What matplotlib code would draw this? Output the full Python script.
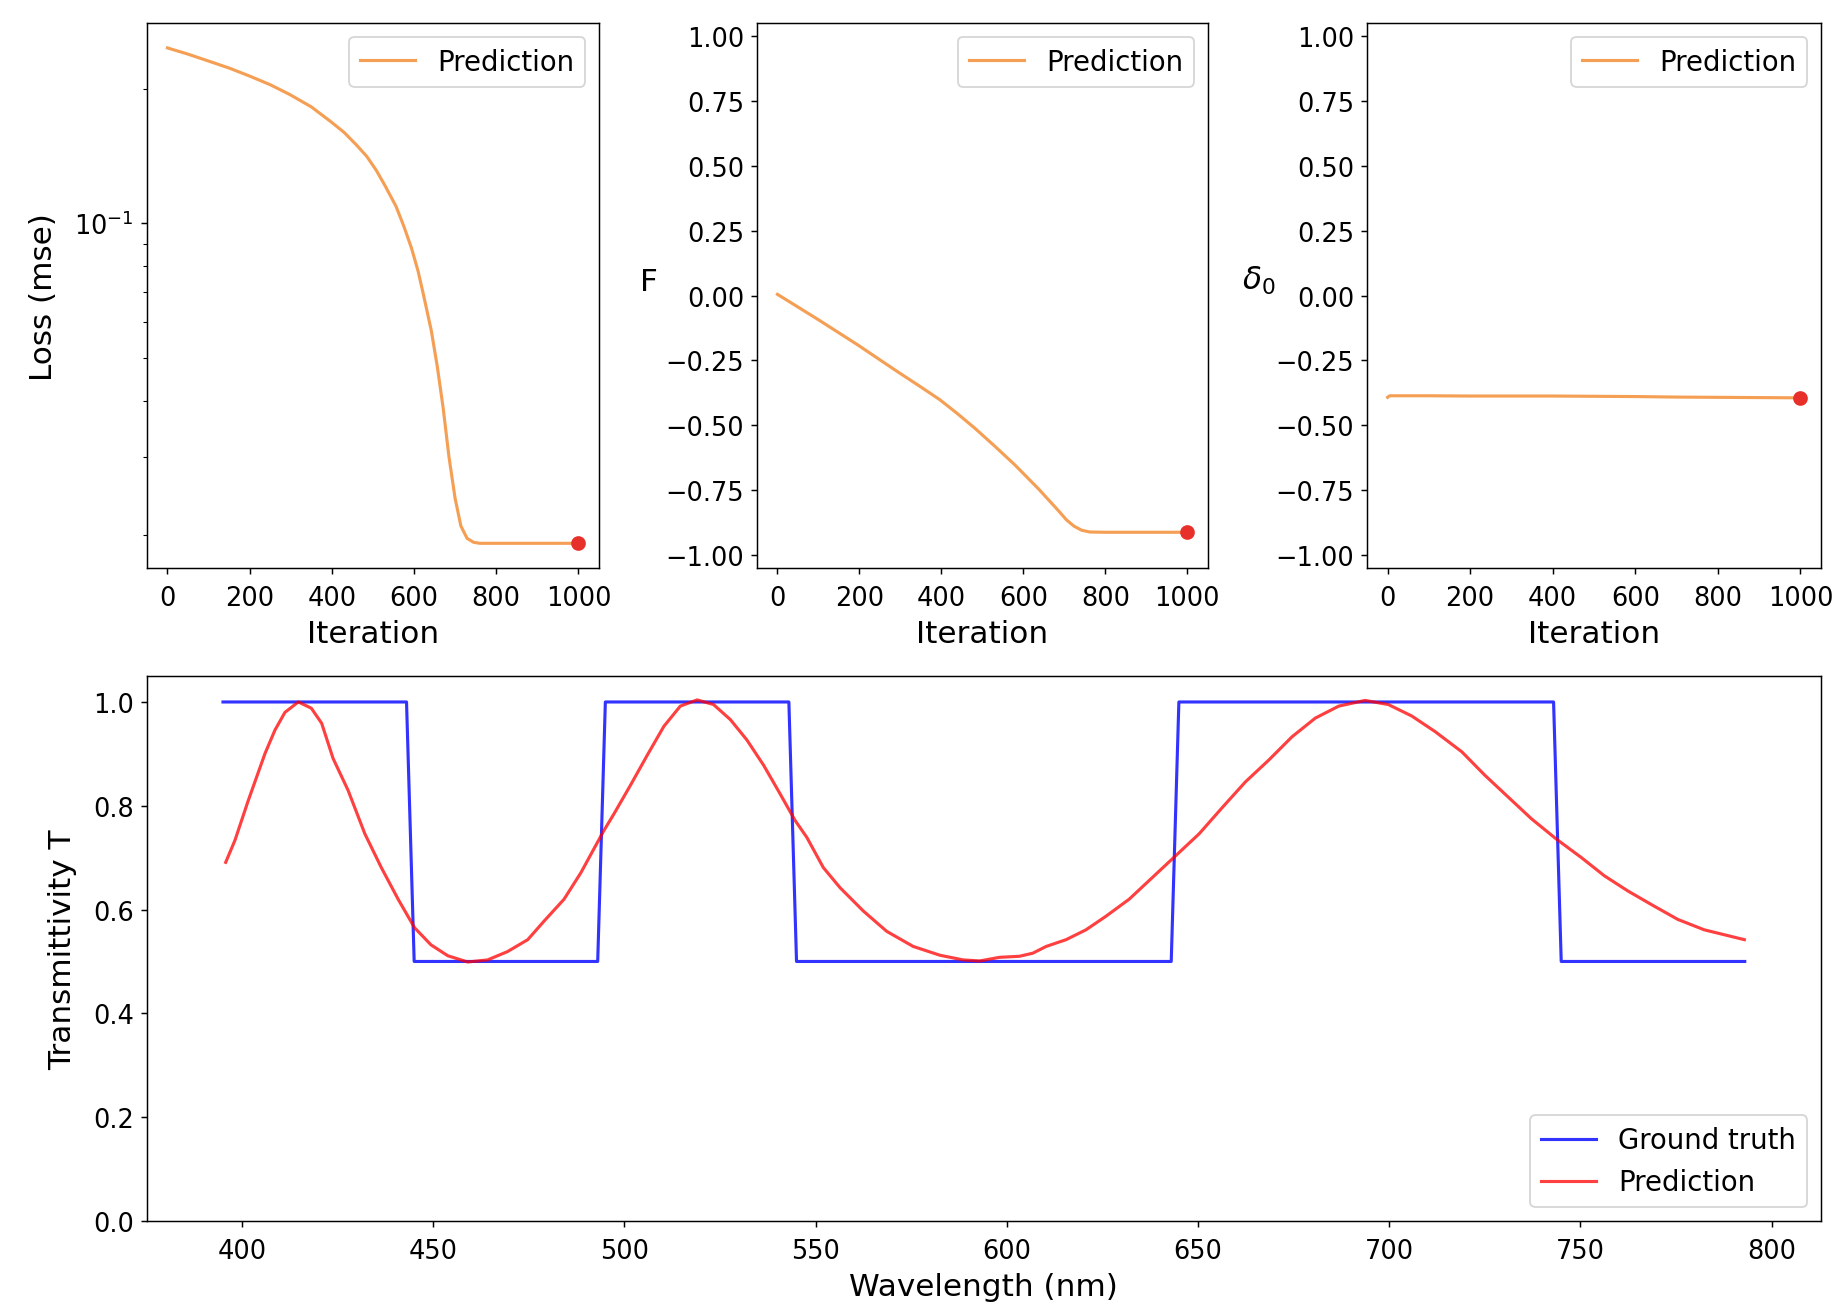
import numpy as np
import matplotlib
matplotlib.use("Agg")
import matplotlib.pyplot as plt

# ---- training history ----
loss_iter = [0, 50, 96, 150, 201, 250, 297, 350, 398, 430, 460, 485, 508, 530,
             556, 575, 594, 610, 623, 642, 657, 671, 685, 700, 714, 729, 745,
             760, 800, 900, 1000]
loss_vals = [0.2466, 0.2388, 0.2311, 0.2223, 0.2131, 0.2040, 0.1941, 0.1820,
             0.1685, 0.1595, 0.1495, 0.1410, 0.1313, 0.1210, 0.1091, 0.0985,
             0.0878, 0.0780, 0.0691, 0.0575, 0.0475, 0.0385, 0.0300, 0.0242,
             0.0210, 0.0197, 0.0193, 0.0192, 0.0192, 0.0192, 0.0192]

f_iter = [0, 98, 194, 290, 345, 396, 440, 483, 530, 579, 637, 685, 705, 723,
          742, 762, 800, 900, 1000]
f_vals = [0.005, -0.091, -0.188, -0.290, -0.347, -0.401, -0.456, -0.513,
          -0.580, -0.652, -0.745, -0.828, -0.864, -0.888, -0.904, -0.911,
          -0.912, -0.912, -0.912]

d0_iter = [0, 5, 100, 200, 300, 400, 500, 600, 700, 800, 900, 1000]
d0_vals = [-0.392, -0.386, -0.386, -0.387, -0.387, -0.387, -0.388, -0.389,
           -0.391, -0.392, -0.393, -0.394]

# ---- spectrum ----
gt_wl = np.arange(395, 795, 2)
gt_band_start = [395, 445, 495, 545, 645, 745]
gt_band_level = [1.0, 0.5, 1.0, 0.5, 1.0, 0.5]

pred_wl = [395.7, 398.1, 401.6, 406.0, 408.6, 411.2, 414.7, 418.1, 420.8, 423.8,
           427.7, 432.1, 436.4, 440.8, 445.1, 449.4, 453.8, 459.0, 464.2, 469.4,
           474.7, 479.0, 484.2, 488.6, 494.6, 497.3, 501.6, 506.0, 510.3, 514.6,
           519.0, 523.3, 527.7, 532.0, 536.4, 540.7, 544.6, 547.7, 552.0, 556.4,
           562.5, 568.6, 575.5, 582.5, 588.6, 592.9, 598.1, 603.3, 606.8, 610.3,
           615.5, 620.7, 625.9, 632.0, 638.1, 644.2, 650.3, 656.4, 662.4, 668.5,
           674.6, 680.7, 686.8, 693.7, 699.8, 705.9, 712.0, 719.0, 725.0, 731.1,
           737.2, 743.7, 750.3, 756.3, 762.4, 768.5, 775.5, 782.4, 792.9]
pred_T = [0.691, 0.733, 0.810, 0.901, 0.946, 0.980, 1.000, 0.988, 0.959, 0.891,
          0.830, 0.746, 0.681, 0.620, 0.565, 0.532, 0.511, 0.499, 0.503, 0.519,
          0.542, 0.578, 0.620, 0.671, 0.752, 0.785, 0.840, 0.898, 0.953, 0.992,
          1.004, 0.995, 0.966, 0.927, 0.878, 0.823, 0.772, 0.739, 0.681, 0.642,
          0.597, 0.558, 0.529, 0.512, 0.503, 0.501, 0.508, 0.510, 0.516, 0.529,
          0.542, 0.561, 0.587, 0.620, 0.662, 0.704, 0.746, 0.797, 0.846, 0.888,
          0.933, 0.969, 0.992, 1.003, 0.995, 0.973, 0.943, 0.904, 0.859, 0.817,
          0.775, 0.736, 0.700, 0.665, 0.636, 0.610, 0.581, 0.561, 0.542]

# step target built from the band edges
idx = np.searchsorted(gt_band_start, gt_wl, side="right") - 1
gt_T = np.array(gt_band_level)[idx]

ORANGE = "#f59f55"
DOT = "#e8302a"

plt.rcParams.update({
    "font.size": 15,
    "xtick.labelsize": 14,
    "ytick.labelsize": 14,
    "xtick.major.pad": 6,
    "axes.labelsize": 17,
    "legend.fontsize": 15,
    "lines.linewidth": 1.7,
})

fig = plt.figure(figsize=(14, 9.924), dpi=132)

ax1 = fig.add_axes([0.0795, 0.5656, 0.2446, 0.4160])
ax2 = fig.add_axes([0.4096, 0.5656, 0.2440, 0.4160])
ax3 = fig.add_axes([0.7397, 0.5656, 0.2457, 0.4160])
ax4 = fig.add_axes([0.0795, 0.0672, 0.9058, 0.4160])

# loss
ax1.plot(loss_iter, loss_vals, color=ORANGE, label="Prediction")
ax1.plot(loss_iter[-1], loss_vals[-1], "o", color=DOT, ms=7)
ax1.set_yscale("log")
ax1.set_xlabel("Iteration")
ax1.set_ylabel("Loss (mse)", labelpad=9)
ax1.legend(loc="upper right")

# F
ax2.plot(f_iter, f_vals, color=ORANGE, label="Prediction")
ax2.plot(f_iter[-1], f_vals[-1], "o", color=DOT, ms=7)
ax2.set_ylim(-1.05, 1.05)
ax2.set_xlabel("Iteration")
ax2.set_ylabel("F", rotation=0, labelpad=9)
ax2.legend(loc="upper right")

# delta_0
ax3.plot(d0_iter, d0_vals, color=ORANGE, label="Prediction")
ax3.plot(d0_iter[-1], d0_vals[-1], "o", color=DOT, ms=7)
ax3.set_ylim(-1.05, 1.05)
ax3.set_xlabel("Iteration")
ax3.set_ylabel(r"$\delta_0$", rotation=0, labelpad=9)
ax3.legend(loc="upper right")

for ax in (ax1, ax2, ax3):
    ax.set_xticks([0, 200, 400, 600, 800, 1000])

# spectrum
ax4.plot(gt_wl, gt_T, color="blue", alpha=0.8, label="Ground truth")
ax4.plot(pred_wl, pred_T, color="red", alpha=0.75, label="Prediction")
ax4.set_ylim(0, 1.05)
ax4.set_xlabel("Wavelength (nm)")
ax4.set_ylabel("Transmittivity T", labelpad=9)
ax4.legend(loc="lower right")

fig.savefig("out.png", dpi=132)
